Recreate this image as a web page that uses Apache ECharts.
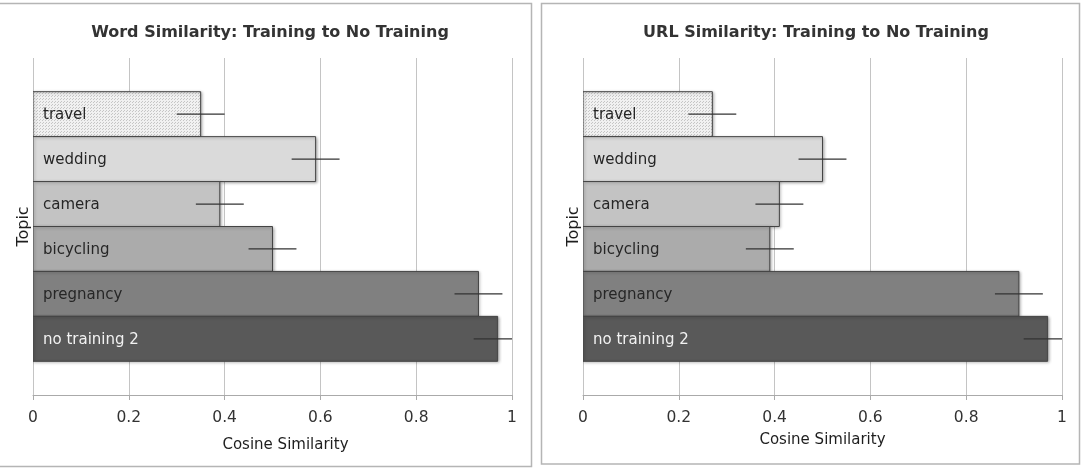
<!DOCTYPE html>
<html>
<head>
<meta charset="utf-8">
<script src="https://cdn.jsdelivr.net/npm/echarts@6/dist/echarts.min.js"></script>
<style>
  html, body { margin: 0; padding: 0; background: #fff; }
  #main { width: 1086px; height: 468px; }
</style>
</head>
<body>
<div id="main"></div>
<script>
// data
var topics = ['travel', 'wedding', 'camera', 'bicycling', 'pregnancy', 'no training 2'];
var wordValues = [0.35, 0.59, 0.39, 0.50, 0.93, 0.97];
var wordErrors = [0.05, 0.05, 0.05, 0.05, 0.05, 0.05];
var urlValues = [0.27, 0.50, 0.41, 0.39, 0.91, 0.97];
var urlErrors = [0.05, 0.05, 0.05, 0.05, 0.05, 0.05];
var xTicks = [0, 0.2, 0.4, 0.6, 0.8, 1];
var titles = ['Word Similarity: Training to No Training', 'URL Similarity: Training to No Training'];

var barColors = ['#ececec', '#dadada', '#c3c3c3', '#ababab', '#808080', '#595959'];
var labelColors = ['#262626', '#262626', '#262626', '#262626', '#262626', '#f2f2f2'];

// little stipple pattern for the first bar
var dots = document.createElement('canvas');
dots.width = 3; dots.height = 3;
var ctx = dots.getContext('2d');
ctx.fillStyle = '#f1f1f1';
ctx.fillRect(0, 0, 3, 3);
ctx.fillStyle = '#c6c6c6';
ctx.fillRect(0, 0, 1, 1);
ctx.fillRect(1, 2, 1, 1);

var chartDom = document.getElementById('main');
var myChart = echarts.init(chartDom);
var font = 'DejaVu Sans';

function renderBar(params, api) {
  var i = api.value(1);
  var v = api.value(0);
  var err = api.value(2);
  var slot = i + 1.25;
  var p0 = api.coord([0, slot - 0.5]);
  var p1 = api.coord([v, slot + 0.5]);
  var mid = (p0[1] + p1[1]) / 2;
  var e0 = api.coord([v - err, slot]);
  var e1 = api.coord([v + err, slot]);
  return {
    type: 'group',
    children: [
      {
        type: 'rect',
        shape: { x: p0[0], y: p0[1], width: p1[0] - p0[0], height: p1[1] - p0[1] },
        style: {
          fill: i === 0 ? { image: dots, repeat: 'repeat' } : barColors[i],
          stroke: '#444',
          lineWidth: 1,
          shadowBlur: 3,
          shadowOffsetX: 1,
          shadowOffsetY: 1,
          shadowColor: 'rgba(0,0,0,0.3)'
        }
      },
      {
        type: 'text',
        x: p0[0] + 10,
        y: mid + 1,
        style: {
          text: topics[i],
          fill: labelColors[i],
          fontFamily: font,
          fontSize: 15,
          verticalAlign: 'middle'
        }
      },
      {
        type: 'line',
        shape: { x1: e0[0], y1: mid, x2: e1[0], y2: mid },
        style: { stroke: '#333', lineWidth: 1.2 }
      }
    ]
  };
}

function seriesData(values, errors) {
  return values.map(function (v, i) { return [v, i, errors[i]]; });
}

function xAxisFor(gridIndex, gap, shift) {
  return {
    gridIndex: gridIndex,
    type: 'value',
    min: xTicks[0],
    max: xTicks[xTicks.length - 1],
    interval: xTicks[1] - xTicks[0],
    axisLine: { show: true, onZero: false, lineStyle: { color: '#aaa' } },
    axisTick: { show: true, length: 5, lineStyle: { color: '#aaa' } },
    axisLabel: { color: '#333', fontFamily: font, fontSize: 15.5, margin: 15 },
    splitLine: { show: true, lineStyle: { color: '#c4c4c4' } },
    name: 'Cosine Similarity',
    nameLocation: 'middle',
    nameGap: gap,
    nameTextStyle: { color: '#1e1e1e', fontFamily: font, fontSize: 15, padding: [0, 0, 0, shift] }
  };
}

function yAxisFor(gridIndex) {
  return {
    gridIndex: gridIndex,
    type: 'value',
    inverse: true,
    min: 0,
    max: 7.5,
    axisLine: { show: false },
    axisTick: { show: false },
    axisLabel: { show: false },
    splitLine: { show: false },
    name: 'Topic',
    nameLocation: 'middle',
    nameRotate: 90,
    nameGap: 1,
    nameTextStyle: { color: '#1e1e1e', fontFamily: font, fontSize: 16 }
  };
}

var option = {
  animation: false,
  backgroundColor: '#fff',
  title: [
    { text: titles[0], left: 265, top: 20, textAlign: 'center',
      textStyle: { fontFamily: font, fontSize: 16, fontWeight: 'bold', color: '#333' } },
    { text: titles[1], left: 811, top: 20, textAlign: 'center',
      textStyle: { fontFamily: font, fontSize: 16, fontWeight: 'bold', color: '#333' } }
  ],
  graphic: [
    { type: 'rect', shape: { x: -2, y: 3.5, width: 533.5, height: 463 },
      style: { fill: 'none', stroke: '#b5b5b5', lineWidth: 1.5 }, z: -1 },
    { type: 'rect', shape: { x: 541.5, y: 3.5, width: 538, height: 460.5 },
      style: { fill: 'none', stroke: '#b5b5b5', lineWidth: 1.5 }, z: -1 }
  ],
  grid: [
    { left: 33, right: 574, top: 58, bottom: 73 },
    { left: 583, right: 24, top: 58, bottom: 73 }
  ],
  xAxis: [xAxisFor(0, 43, 26), xAxisFor(1, 38, 0)],
  yAxis: [yAxisFor(0), yAxisFor(1)],
  series: [
    {
      name: 'Word',
      type: 'custom',
      xAxisIndex: 0,
      yAxisIndex: 0,
      clip: true,
      renderItem: renderBar,
      encode: { x: 0, y: 1 },
      data: seriesData(wordValues, wordErrors)
    },
    {
      name: 'URL',
      type: 'custom',
      xAxisIndex: 1,
      yAxisIndex: 1,
      clip: true,
      renderItem: renderBar,
      encode: { x: 0, y: 1 },
      data: seriesData(urlValues, urlErrors)
    }
  ]
};

option && myChart.setOption(option);
</script>
</body>
</html>
